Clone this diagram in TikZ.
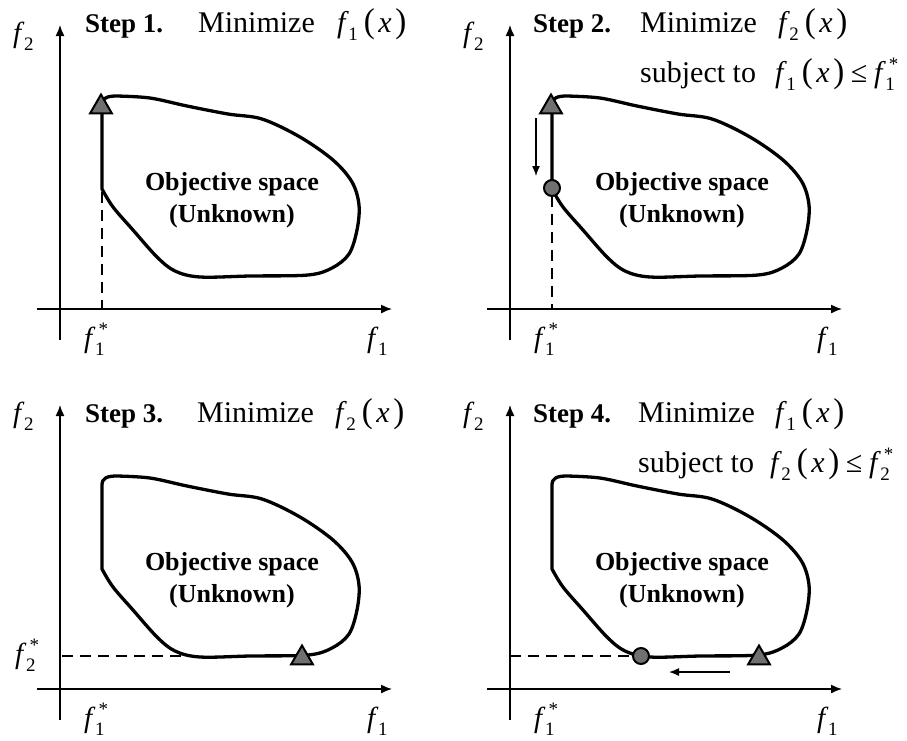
\documentclass[tikz,border=0pt]{standalone}
\usepackage{fontspec}
\setmainfont{Liberation Serif}
\usepackage{graphicx}
\usetikzlibrary{arrows.meta,shapes.geometric}
\definecolor{markgray}{RGB}{112,112,112}
\newcommand\fsb[2]{\textit{f}\kern-0.02em\raisebox{-0.28em}{\fontsize{#2}{#2}\selectfont #1}}
\newcommand\fsubstar[2]{\textit{f}\kern-0.02em\raisebox{-0.28em}{\fontsize{#2}{#2}\selectfont #1}\kern-0.2em\raisebox{0.4em}{\fontsize{#2}{#2}\selectfont *}}
\newcommand\mylp{\kern0.2em\scalebox{1.1}[1.15]{(}\kern0.12em}
\newcommand\myrp{\kern0.12em\scalebox{1.1}[1.15]{)}}
\newcommand\myle{\kern0.22em≤\kern0.22em}
\tikzset{
  axisline/.style={line width=1.4pt,-{Latex[length=11pt,width=9pt]}},
  blobline/.style={line width=3.3pt,line join=round},
  guide/.style={line width=1.7pt,dash pattern=on 11pt off 7pt},
  movearrow/.style={line width=1.3pt,-{Latex[length=10pt,width=8pt]}},
  trimark/.style={regular polygon,regular polygon sides=3,minimum size=25pt,inner sep=0pt,draw=black,line width=2pt,fill=markgray},
  dotmark/.style={circle,minimum size=16pt,inner sep=0pt,draw=black,line width=2pt,fill=markgray},
  steptxt/.style={anchor=base west,inner sep=0pt,font=\fontsize{27}{27}\selectfont\bfseries},
  titletxt/.style={anchor=base west,inner sep=0pt,font=\fontsize{30}{30}\selectfont},
  axlabel/.style={anchor=base west,inner sep=0pt,font=\fontsize{29}{29}\selectfont},
  objtxt/.style={anchor=base,inner sep=0pt,font=\fontsize{26}{26}\selectfont\bfseries}
}
\newcommand\panel[3]{%
\begin{scope}[shift={(#1,#2)}]
  \coordinate (xs#3) at (37,309); \coordinate (xe#3) at (392,309);
  \coordinate (ys#3) at (60,340); \coordinate (ye#3) at (60,25);
  \draw[axisline] (xs#3) -- (xe#3);
  \draw[axisline] (ys#3) -- (ye#3);
  \draw[blobline] (102,189) -- (102,105) .. controls (102,98) and (107,96) .. (117,96)
    -- plot[smooth,tension=0.55] coordinates {(117,96) (150,98) (187,106) (228,114) (262,119) (300,137) (333,160) (352,182) (359,205) (357,230) (349,254) (332,268) (308,275) (250,276) (200,277) (175,271) (157,257) (133,230) (113,207) (102,189)} -- cycle;
  \node[objtxt] (obja#3) at (232,190) {Objective space};
  \node[objtxt] (objb#3) at (232,222) {(Unknown)};
  \node[axlabel] (ly#3) at (13,42) {\fsb{2}{19}};
  \node[axlabel] (lx#3) at (367,347) {\fsb{1}{19}};
  \node[axlabel] (lxs#3) at (84,347) {\fsubstar{1}{19}};
\end{scope}}
\begin{document}
\begin{tikzpicture}[x=1pt,y=-1pt]
\useasboundingbox[fill=white] (0,0) rectangle (907,740);
% Panel 1
\panel{0}{0}{a}
\begin{scope}
  \coordinate (dta) at (102,192); \coordinate (dba) at (102,309);
  \draw[guide] (dta) -- (dba);
  \node[trimark] (tria) at (101,107) {};
  \node[steptxt] (sa) at (85,32) {Step 1.};
  \node[titletxt] (ma) at (198,32) {Minimize};
  \node[titletxt] (fa) at (337,32) {\fsb{1}{19}\mylp\textit{x}\myrp};
\end{scope}
% Panel 2
\panel{450}{0}{b}
\begin{scope}[shift={(450,0)}]
  \coordinate (dtb) at (102,196); \coordinate (dbb) at (102,309);
  \draw[guide] (dtb) -- (dbb);
  \node[trimark] (trib) at (101,107) {};
  \node[dotmark] (dotb) at (102,188) {};
  \coordinate (arsb) at (86,118); \coordinate (areb) at (86,176);
  \draw[movearrow] (arsb) -- (areb);
  \node[steptxt] (sb) at (83,32) {Step 2.};
  \node[titletxt] (mb) at (190,32) {Minimize};
  \node[titletxt] (fb) at (328,32) {\fsb{2}{19}\mylp\textit{x}\myrp};
  \node[titletxt] (subb) at (190,82) {subject to};
  \node[titletxt] (cb) at (325,82) {\fsb{1}{19}\mylp\textit{x}\myrp\myle\fsubstar{1}{19}};
\end{scope}
% Panel 3
\panel{0}{380}{c}
\begin{scope}[shift={(0,380)}]
  \coordinate (dlc) at (62,276); \coordinate (drc) at (190,276);
  \draw[guide] (dlc) -- (drc);
  \node[trimark] (tric) at (302,278) {};
  \node[axlabel] (lys) at (15,283) {\fsubstar{2}{19}};
  \node[steptxt] (sc) at (85,42) {Step 3.};
  \node[titletxt] (mc) at (197,42) {Minimize};
  \node[titletxt] (fc) at (335,42) {\fsb{2}{19}\mylp\textit{x}\myrp};
\end{scope}
% Panel 4
\panel{450}{380}{d}
\begin{scope}[shift={(450,380)}]
  \coordinate (dld) at (60,276);
  \node[dotmark] (dotd) at (191,276) {};
  \draw[guide] (dld) -- (dotd.west);
  \node[trimark] (trid) at (309,278) {};
  \coordinate (arsd) at (280,292); \coordinate (ared) at (219,292);
  \draw[movearrow] (arsd) -- (ared);
  \node[steptxt] (sd) at (83,42) {Step 4.};
  \node[titletxt] (md) at (188,42) {Minimize};
  \node[titletxt] (fd) at (325,42) {\fsb{1}{19}\mylp\textit{x}\myrp};
  \node[titletxt] (subd) at (188,92) {subject to};
  \node[titletxt] (cd) at (320,92) {\fsb{2}{19}\mylp\textit{x}\myrp\myle\fsubstar{2}{19}};
\end{scope}
\end{tikzpicture}
\end{document}
